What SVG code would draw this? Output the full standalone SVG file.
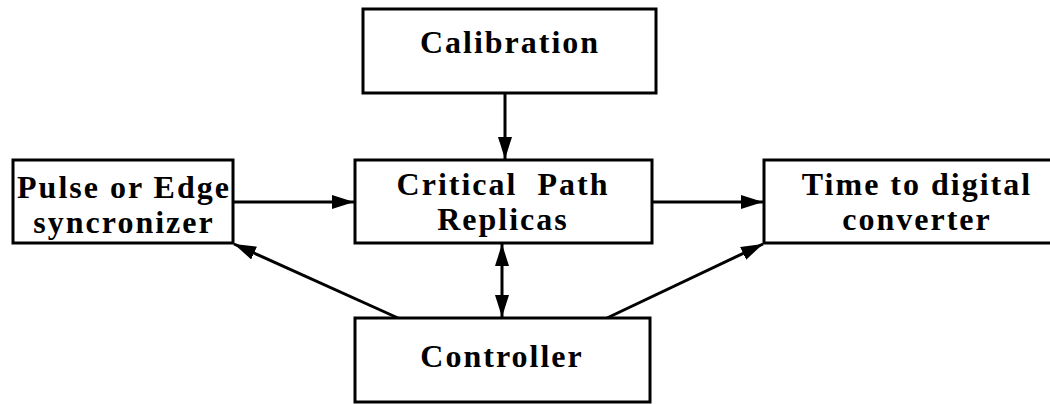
<svg xmlns="http://www.w3.org/2000/svg" width="1050" height="404" viewBox="0 0 1050 404">
<style>
.box{fill:#fff;stroke:#000;stroke-width:3}
.t{font-family:"Liberation Serif","Times New Roman",serif;font-weight:bold;font-size:32px;letter-spacing:2px;text-anchor:middle;fill:#000;white-space:pre}
.c{stroke:#000;stroke-width:3;fill:none}
</style>
<defs>
<marker id="a" viewBox="0 0 10 10" refX="10" refY="5" markerWidth="22" markerHeight="14" markerUnits="userSpaceOnUse" orient="auto-start-reverse" preserveAspectRatio="none">
<path d="M0,0 L10,5 L0,10 z" fill="#000"/>
</marker>
</defs>
<g id="connectors">
<line class="c" x1="505" y1="93" x2="505" y2="159" marker-end="url(#a)"/>
<line class="c" x1="233" y1="202" x2="354" y2="202" marker-end="url(#a)"/>
<line class="c" x1="652" y1="202" x2="763" y2="202" marker-end="url(#a)"/>
<line class="c" x1="502" y1="244" x2="502" y2="317" marker-start="url(#a)" marker-end="url(#a)"/>
<line class="c" x1="398" y1="318" x2="234" y2="244" marker-end="url(#a)"/>
<line class="c" x1="607" y1="318" x2="763" y2="244" marker-end="url(#a)"/>
</g>
<g id="calibration">
<rect class="box" x="363" y="9" width="293" height="84"/>
<text class="t" x="510" y="53">Calibration</text>
</g>
<g id="pulse">
<rect class="box" x="13" y="160" width="220" height="83"/>
<text class="t" x="124" y="198">Pulse or Edge</text>
<text class="t" x="124" y="233">syncronizer</text>
</g>
<g id="critical">
<rect class="box" x="355" y="160" width="297" height="83"/>
<text class="t" x="503" y="195">Critical  Path</text>
<text class="t" x="503" y="230">Replicas</text>
</g>
<g id="tdc">
<rect class="box" x="764" y="160" width="300" height="83"/>
<text class="t" x="917" y="195">Time to digital</text>
<text class="t" x="917" y="230">converter</text>
</g>
<g id="controller">
<rect class="box" x="355" y="318" width="295" height="84"/>
<text class="t" x="502" y="367">Controller</text>
</g>
</svg>
